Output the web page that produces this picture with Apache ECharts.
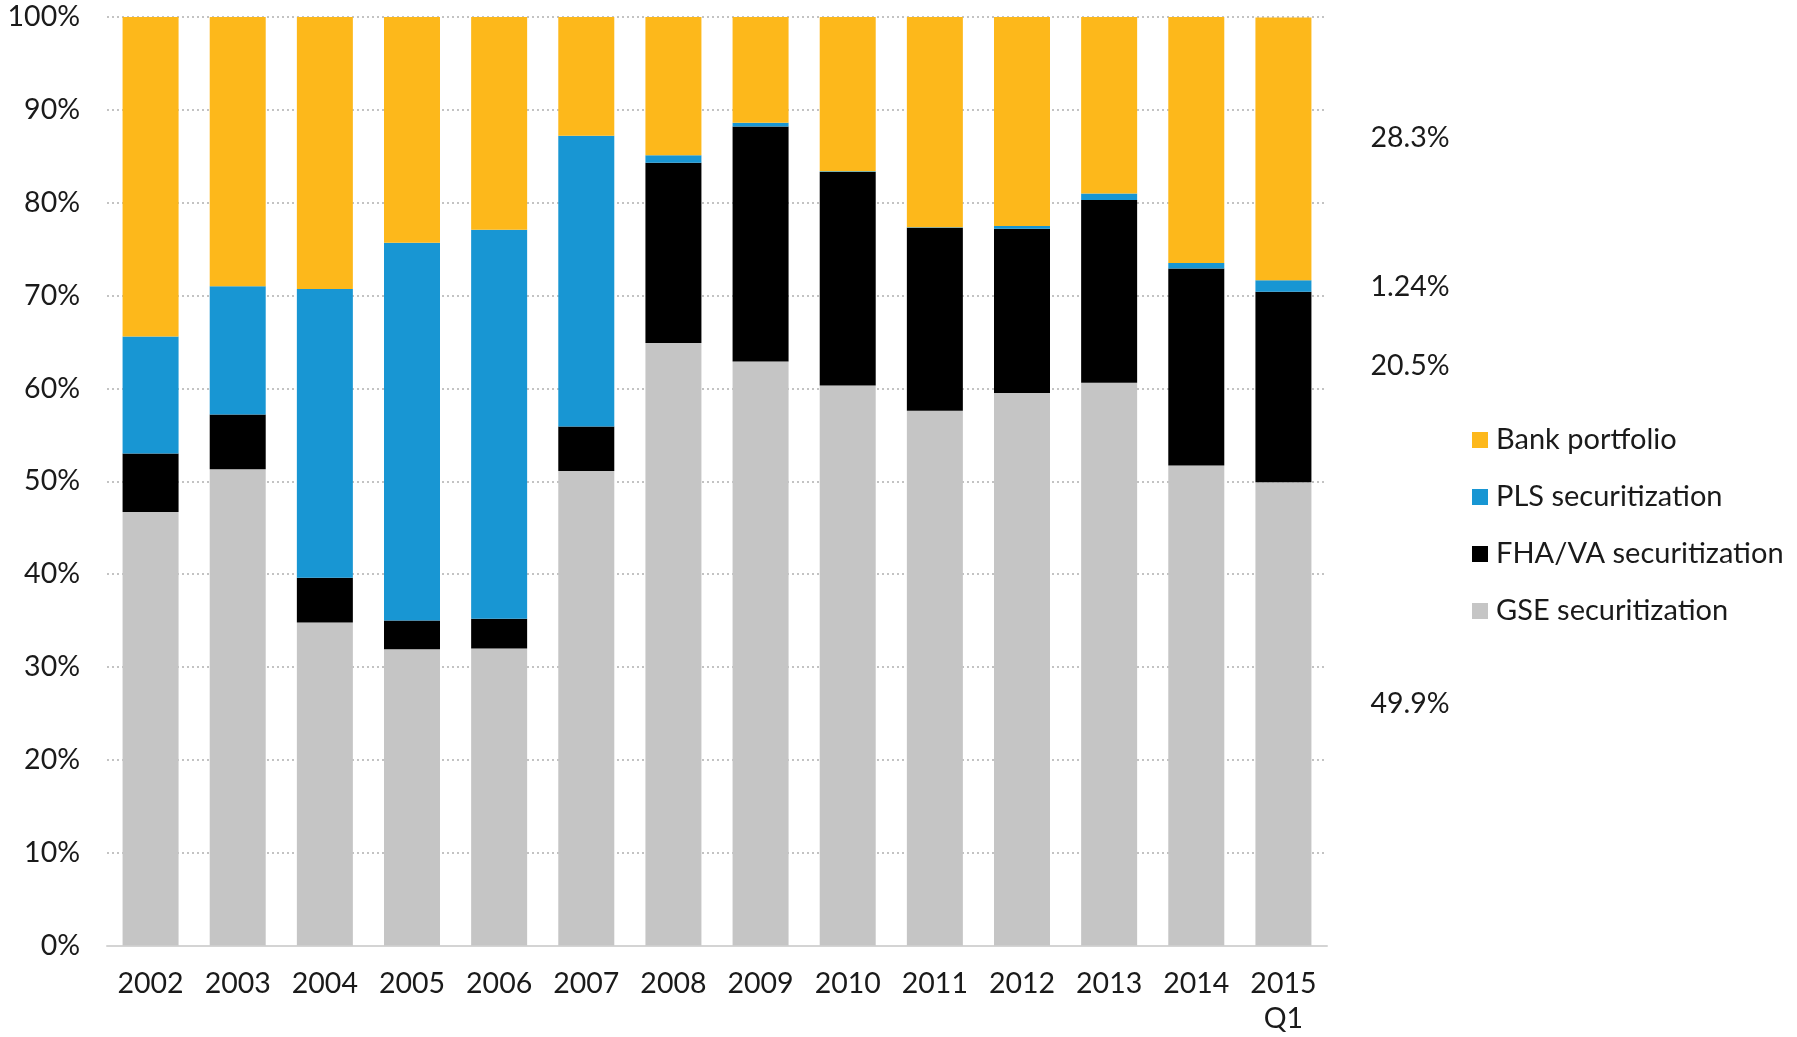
<!DOCTYPE html>
<html>
<head>
<meta charset="utf-8">
<title>Mortgage origination by holder</title>
<script src="https://cdn.jsdelivr.net/npm/echarts@6/dist/echarts.min.js"></script>
<style>
  html, body { margin: 0; padding: 0; background: #fff; }
  #chart { width: 1797px; height: 1037px; }
</style>
</head>
<body>
<div id="chart"></div>
<script>
// Share of originations by holder, percent of total
const categories = ['2002', '2003', '2004', '2005', '2006', '2007', '2008',
  '2009', '2010', '2011', '2012', '2013', '2014', '2015\nQ1'];

const gse  = [46.7, 51.3, 34.8, 31.9, 32.0, 51.1, 64.9, 62.9, 60.3, 57.6, 59.5, 60.6, 51.7, 49.9];
const fha  = [6.3, 5.9, 4.8, 3.1, 3.2, 4.8, 19.4, 25.3, 23.0, 19.7, 17.7, 19.7, 21.2, 20.5];
const pls  = [12.6, 13.8, 31.1, 40.7, 41.9, 31.3, 0.8, 0.4, 0.1, 0.05, 0.3, 0.7, 0.6, 1.24];
const bank = [34.4, 29.0, 29.3, 24.3, 22.9, 12.8, 14.9, 11.4, 16.6, 22.7, 22.5, 19.0, 26.5, 28.3];

const yTicks = [0, 10, 20, 30, 40, 50, 60, 70, 80, 90, 100];

const FONT = 'Lato, "Open Sans", sans-serif';
const TEXT = '#1a1a1a';

// Label only the latest bar's segments, placed to the right of the plot
function withEndLabel(values, dy) {
  return values.map((v, i) => {
    if (i !== values.length - 1) return v;
    return {
      value: v,
      label: {
        show: true,
        position: 'right',
        distance: 59,
        offset: [0, dy],
        formatter: p => p.value + '%',
        fontFamily: FONT,
        fontSize: 28.5,
        color: TEXT
      }
    };
  });
}

const chart = echarts.init(document.getElementById('chart'), null, { renderer: 'canvas' });

const seriesDefs = [
  { name: 'GSE securitization', data: gse, color: '#c5c5c5', dy: -10 },
  { name: 'FHA/VA securitization', data: fha, color: '#000000', dy: -21 },
  { name: 'PLS securitization', data: pls, color: '#1896d3', dy: 1 },
  { name: 'Bank portfolio', data: bank, color: '#fdb81b', dy: -11 }
];

chart.setOption({
  animation: false,
  backgroundColor: '#ffffff',
  textStyle: { fontFamily: FONT },
  grid: { left: 107, right: 470, top: 17, bottom: 91.5, containLabel: false },
  legend: {
    orient: 'vertical',
    left: 1472,
    top: 425,
    padding: 0,
    itemWidth: 16,
    itemHeight: 16,
    itemGap: 27,
    icon: 'rect',
    data: ['Bank portfolio', 'PLS securitization', 'FHA/VA securitization', 'GSE securitization'],
    textStyle: { fontFamily: FONT, fontSize: 29, color: TEXT, lineHeight: 30, padding: [0, 0, 0, 3] }
  },
  xAxis: {
    type: 'category',
    data: categories,
    axisLine: { show: true, lineStyle: { color: '#d4d4d4', width: 2 } },
    axisTick: { show: false },
    axisLabel: { fontFamily: FONT, fontSize: 28.5, color: TEXT, margin: 21, lineHeight: 35, interval: 0 }
  },
  yAxis: {
    type: 'value',
    min: 0,
    max: 100,
    interval: 10,
    axisLine: { show: false },
    axisTick: { show: false },
    axisLabel: {
      fontFamily: FONT, fontSize: 28.5, color: TEXT, margin: 27,
      formatter: v => (yTicks.includes(v) ? v + '%' : '')
    },
    splitLine: { show: true, lineStyle: { color: '#c3c3c3', width: 2, type: [2, 3] } }
  },
  series: seriesDefs.map(s => ({
    name: s.name,
    type: 'bar',
    stack: 'share',
    barWidth: 56,
    itemStyle: { color: s.color },
    emphasis: { disabled: true },
    data: withEndLabel(s.data, s.dy)
  }))
});
</script>
</body>
</html>
